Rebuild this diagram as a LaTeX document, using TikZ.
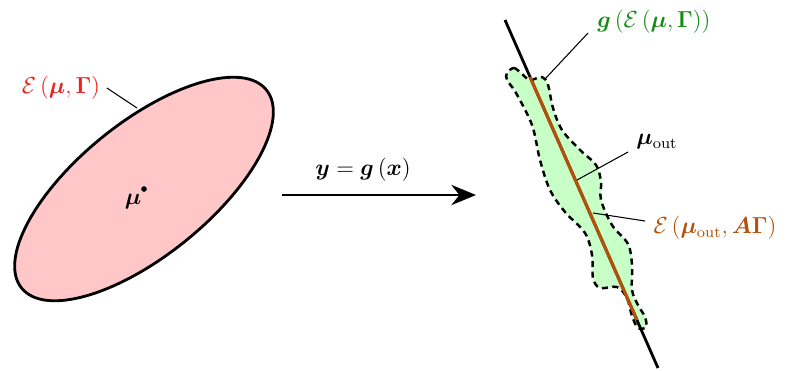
\documentclass[tikz,border=0pt]{standalone}
\usepackage{amsmath,bm}
\usetikzlibrary{arrows.meta}
\definecolor{lblred}{RGB}{245,30,30}
\definecolor{lblgreen}{RGB}{20,140,20}
\definecolor{lblbrown}{RGB}{180,80,10}
\tikzset{
  shapeline/.style={line width=1.6pt},
  leader/.style={line width=0.6pt},
  blob/.style={line width=1.4pt, dash pattern=on 3.5pt off 2.5pt, fill=green!22},
  every node/.style={font=\large, scale=1.1},
}
\begin{document}
\begin{tikzpicture}[x=0.02cm,y=-0.02cm]
\useasboundingbox (0,0) rectangle (793,370);
% left ellipse
\coordinate (c) at (144,189);
\draw[shapeline, fill=red!22, rotate around={39:(c)}] (c) ellipse [x radius=3.15cm, y radius=1.33cm];
\fill (c) circle (1.6pt);
\node (mu) at (133,202) {$\bm{\mu}$};
\node[text=lblred] (Elab) at (61,88) {$\mathcal{E}\left(\bm{\mu},\bm{\Gamma}\right)$};
\coordinate (Ehit) at (137,108);
\draw[leader] (Elab.east) -- (Ehit);
% mapping arrow
\coordinate (as) at (282,195);
\coordinate (ae) at (476,195);
\draw[shapeline, -{Stealth[length=14pt,width=11.5pt]}] (as) -- (ae);
\node (map) at (363,170) {$\bm{y}=\bm{g}\left(\bm{x}\right)$};
% right blob
\draw[blob] plot[smooth cycle, tension=0.55] coordinates {
 (507,73) (514,68) (522,74) (530,80) (542,77) (548,85) (553,108) (562,130)
 (580,150) (596,165) (601,182) (601,200) (612,225) (628,244) (632,265)
 (632,290) (638,305) (645,317) (646,327) (638,328) (632,316) (627,298)
 (617,287) (600,288) (593,278) (592,255) (585,233) (565,212) (550,190)
 (540,160) (532,125) (516,93) (507,80)};
\coordinate (lt) at (505,20);
\coordinate (lb) at (658,368);
\draw[shapeline] (lt) -- (lb);
\coordinate (bt) at (530,77);
\coordinate (bb) at (637,320);
\draw[line width=1.8pt, lblbrown] (bt) -- (bb);
% labels right
\node[text=lblgreen] (glab) at (654,22) {$\bm{g}\left(\mathcal{E}\left(\bm{\mu},\bm{\Gamma}\right)\right)$};
\coordinate (ghit) at (545,79);
\draw[leader] (588,33) -- (ghit);
\node (mout) at (657,142) {$\bm{\mu}_{\mathrm{out}}$};
\coordinate (mhit) at (577,180);
\draw[leader] (628,152) -- (mhit);
\node[text=lblbrown] (elab) at (715,228) {$\mathcal{E}\left(\bm{\mu}_{\mathrm{out}},\bm{A}\bm{\Gamma}\right)$};
\coordinate (ehit) at (593,213);
\draw[leader] (645,221) -- (ehit);
\end{tikzpicture}
\end{document}
